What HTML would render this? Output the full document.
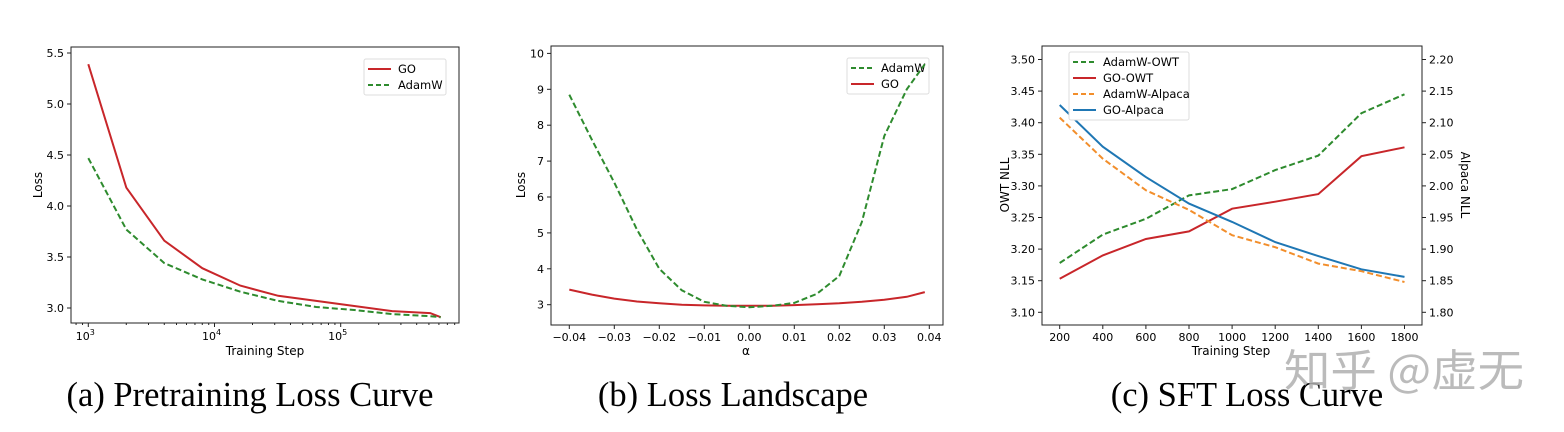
<!DOCTYPE html>
<html><head><meta charset="utf-8">
<style>
html,body{margin:0;padding:0;background:#fff;}
svg{display:block;font-family:"DejaVu Sans","Liberation Sans",sans-serif;}
.tk{font-size:11px;fill:#000;}
.cap{font-family:"Liberation Serif",serif;font-size:34.5px;fill:#000;}
</style></head>
<body>
<svg id="root" width="1564" height="432" viewBox="0 0 1564 432">
<text class="cap" x="250" y="406" text-anchor="middle">(a) Pretraining Loss Curve</text>
<text class="cap" x="733" y="406" text-anchor="middle">(b) Loss Landscape</text>
<text class="cap" x="1247" y="406" text-anchor="middle">(c) SFT Loss Curve</text>
<g id="ga"></g>
<g id="gb"></g>
<g id="gc"></g>
<text x="1284" y="386" font-family="'Noto Sans CJK SC',sans-serif" font-size="44" fill="#b0b0b0" opacity="0.85" textLength="240" lengthAdjust="spacingAndGlyphs">知乎 @虚无</text>
</svg>
<script>
// ---- data chart a ----
const aSteps=[1000,2000,4000,8000,16000,32000,64000,128000,256000,512000,620000];
const aGO=[5.39,4.18,3.66,3.39,3.22,3.12,3.07,3.02,2.97,2.95,2.91];
const aAdamW=[4.47,3.77,3.44,3.28,3.16,3.07,3.01,2.98,2.94,2.92,2.91];
const aYTicks=[3.0,3.5,4.0,4.5,5.0,5.5];
const aXTicks=[3,4,5];
// ---- data chart b ----
const bAlpha=[-0.04,-0.035,-0.03,-0.025,-0.02,-0.015,-0.01,-0.005,0,0.005,0.01,0.015,0.02,0.025,0.03,0.035,0.039];
const bAdamW=[8.85,7.6,6.4,5.1,4.0,3.4,3.08,2.97,2.93,2.97,3.05,3.3,3.8,5.3,7.7,9.0,9.7];
const bGOAlpha=[-0.04,-0.035,-0.03,-0.025,-0.02,-0.015,-0.01,-0.005,0,0.005,0.01,0.015,0.02,0.025,0.03,0.035,0.039];
const bGO=[3.42,3.28,3.17,3.09,3.04,3.00,2.98,2.97,2.97,2.97,2.99,3.01,3.04,3.08,3.14,3.22,3.35];
const bYTicks=[3,4,5,6,7,8,9,10];
const bXTicks=[-0.04,-0.03,-0.02,-0.01,0,0.01,0.02,0.03,0.04];
// ---- data chart c ----
const cSteps=[200,400,600,800,1000,1200,1400,1600,1800];
const cAdamWOWT=[3.178,3.223,3.248,3.285,3.295,3.325,3.348,3.415,3.445];
const cGOOWT=[3.153,3.190,3.216,3.228,3.264,3.275,3.287,3.347,3.361];
const cAdamWAlpaca=[2.108,2.043,1.993,1.962,1.922,1.903,1.877,1.865,1.848];
const cGOAlpaca=[2.128,2.062,2.014,1.972,1.943,1.911,1.889,1.868,1.856];
const cYLTicks=[3.10,3.15,3.20,3.25,3.30,3.35,3.40,3.45,3.50];
const cYRTicks=[1.80,1.85,1.90,1.95,2.00,2.05,2.10,2.15,2.20];

const NS='http://www.w3.org/2000/svg';
function mk(parent,tag,attrs,txt){const e=document.createElementNS(NS,tag);for(const k in attrs)e.setAttribute(k,attrs[k]);if(txt!==undefined)e.textContent=txt;parent.appendChild(e);return e;}
function pathD(xs,ys,fx,fy){return xs.map((x,i)=>(i?'L':'M')+fx(x).toFixed(1)+','+fy(ys[i]).toFixed(1)).join(' ');}
function frame(g,x0,y0,x1,y1){const r=mk(g,'rect',{x:x0,y:y0,width:x1-x0,height:y1-y0,fill:'none',stroke:'#222','stroke-width':1});}
function yTick(g,x,y,label,side){const d=side==='r'?1:-1;mk(g,'line',{x1:x,x2:x+4*d,y1:y,y2:y,stroke:'#222'});const t=mk(g,'text',{class:'tk',x:x+7*d,y:y+4,'text-anchor':side==='r'?'start':'end'},label);}
function xTick(g,x,y,label){mk(g,'line',{x1:x,x2:x,y1:y,y2:y+4,stroke:'#222'});const t=mk(g,'text',{class:'tk',x:x,y:y+16,'text-anchor':'middle'},label);}
function legend(g,x,y,w,items){const r=mk(g,'rect',{x:x,y:y,width:w,height:items.length*16+4,fill:'#fff',stroke:'#ddd',rx:2});
items.forEach((it,i)=>{const yy=y+10+i*16;const l=mk(g,'line',{x1:x+4,x2:x+27,y1:yy,y2:yy,stroke:it.c,'stroke-width':2,'stroke-dasharray':it.d?'5,3':'none'});const t=mk(g,'text',{x:x+34,y:yy+4,'font-size':11.5},it.n);});}
const RED='#c8262a',GREEN='#2e8b2e',ORANGE='#f28e2b',BLUE='#1f77b4';

// ---------- chart a ----------
(function(){const g=document.getElementById('ga');
const X0=71,X1=459,Y0=47,Y1=323;
const fx=v=>88.3+(Math.log10(v)-3)*126.2;const fy=v=>308-(v-3)/0.5*51;
frame(g,X0,Y0,X1,Y1);
aYTicks.forEach(v=>yTick(g,X0,fy(v),v.toFixed(1)));
aXTicks.forEach(p=>{const x=fx(Math.pow(10,p));mk(g,'line',{x1:x,x2:x,y1:Y1,y2:Y1+4,stroke:'#222'});const t=mk(g,'text',{class:'tk',x:x-3,y:Y1+17,'text-anchor':'middle'},'10');mk(t,'tspan',{dy:-5,'font-size':8},String(p));});
for(let p=2;p<6;p++)for(let m=2;m<10;m++){const x=fx(m*Math.pow(10,p));if(x>X0&&x<X1)mk(g,'line',{x1:x,x2:x,y1:Y1,y2:Y1+2,stroke:'#222'});}
const t1=mk(g,'text',{x:265,y:355,'font-size':12,'text-anchor':'middle'},'Training Step');
const t2=mk(g,'text',{x:42,y:185,'font-size':12,'text-anchor':'middle',transform:'rotate(-90 42 185)'},'Loss');
const p1=mk(g,'path',{d:pathD(aSteps,aGO,fx,fy),fill:'none',stroke:RED,'stroke-width':2});
const p2=mk(g,'path',{d:pathD(aSteps,aAdamW,fx,fy),fill:'none',stroke:GREEN,'stroke-width':2,'stroke-dasharray':'6,3'});
legend(g,364,59,82,[{n:'GO',c:RED},{n:'AdamW',c:GREEN,d:1}]);
})();

// ---------- chart b ----------
(function(){const g=document.getElementById('gb');
const X0=551,X1=943,Y0=46,Y1=325;
const fx=v=>749.3+v/0.01*45;const fy=v=>304.7-(v-3)*35.9;
frame(g,X0,Y0,X1,Y1);
bYTicks.forEach(v=>yTick(g,X0,fy(v),String(v)));
bXTicks.forEach(v=>xTick(g,fx(v),Y1,(v<0?'\u2212':'')+Math.abs(v).toFixed(2)));
const t1=mk(g,'text',{x:746,y:355,'font-size':12,'text-anchor':'middle'},'α');
const t2=mk(g,'text',{x:525,y:185,'font-size':12,'text-anchor':'middle',transform:'rotate(-90 525 185)'},'Loss');
legend(g,847,58,82,[{n:'AdamW',c:GREEN,d:1},{n:'GO',c:RED}]);
const p1=mk(g,'path',{d:pathD(bGOAlpha,bGO,fx,fy),fill:'none',stroke:RED,'stroke-width':2});
const p2=mk(g,'path',{d:pathD(bAlpha,bAdamW,fx,fy),fill:'none',stroke:GREEN,'stroke-width':2,'stroke-dasharray':'6,3'});
})();

// ---------- chart c ----------
(function(){const g=document.getElementById('gc');
const X0=1042,X1=1422,Y0=46,Y1=325;
const fx=v=>1059.7+(v-200)/200*43.1;const fyL=v=>312.3-(v-3.10)/0.05*31.6;const fyR=v=>312.3-(v-1.80)/0.05*31.6;
frame(g,X0,Y0,X1,Y1);
cYLTicks.forEach(v=>yTick(g,X0,fyL(v),v.toFixed(2)));
cYRTicks.forEach(v=>yTick(g,X1,fyR(v),v.toFixed(2),'r'));
cSteps.forEach(v=>xTick(g,fx(v),Y1,String(v)));
const t1=mk(g,'text',{x:1231,y:355,'font-size':12,'text-anchor':'middle'},'Training Step');
const t2=mk(g,'text',{x:1009,y:185,'font-size':12,'text-anchor':'middle',transform:'rotate(-90 1009 185)'},'OWT NLL');
const t3=mk(g,'text',{x:1461,y:185,'font-size':12,'text-anchor':'middle',transform:'rotate(90 1461 185)'},'Alpaca NLL');
const p1=mk(g,'path',{d:pathD(cSteps,cAdamWOWT,fx,fyL),fill:'none',stroke:GREEN,'stroke-width':2,'stroke-dasharray':'6,3'});
const p2=mk(g,'path',{d:pathD(cSteps,cGOOWT,fx,fyL),fill:'none',stroke:RED,'stroke-width':2});
const p3=mk(g,'path',{d:pathD(cSteps,cAdamWAlpaca,fx,fyR),fill:'none',stroke:ORANGE,'stroke-width':2,'stroke-dasharray':'6,3'});
const p4=mk(g,'path',{d:pathD(cSteps,cGOAlpaca,fx,fyR),fill:'none',stroke:BLUE,'stroke-width':2});
legend(g,1069,52,120,[{n:'AdamW-OWT',c:GREEN,d:1},{n:'GO-OWT',c:RED},{n:'AdamW-Alpaca',c:ORANGE,d:1},{n:'GO-Alpaca',c:BLUE}]);
})();
</script>
</body></html>
